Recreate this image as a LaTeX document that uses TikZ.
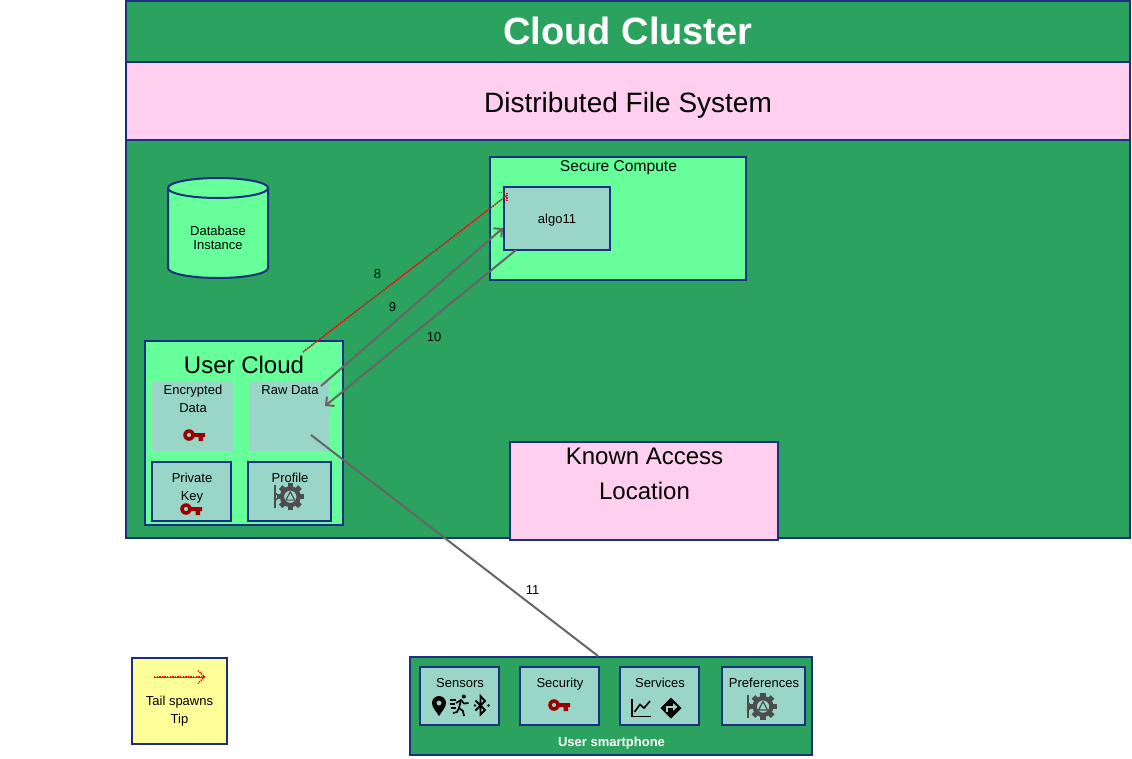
\documentclass[tikz,border=0pt]{standalone}
\usepackage{fontspec}
\setmainfont{Liberation Sans}
\usetikzlibrary{arrows.meta,shapes.geometric,calc}
\definecolor{cgreen}{HTML}{2CA25F}
\definecolor{lgreen}{HTML}{66FF99}
\definecolor{cpink}{HTML}{FFCFEF}
\definecolor{cteal}{HTML}{99D6C8}
\definecolor{cnavy}{HTML}{1A2E82}
\definecolor{cyell}{HTML}{FFFF99}
\definecolor{ckey}{HTML}{990000}
\definecolor{cgear}{HTML}{4D4D4D}
\definecolor{cline}{HTML}{666666}
\newcommand{\fs}[1]{\fontsize{#1}{#1}\selectfont}
\newcommand{\keyicon}[2]{%
 \begin{scope}[shift={(#1,#2)}]
  \fill[ckey,even odd rule] (6,6) circle[radius=5.8] (6,6) circle[radius=2.2];
  \fill[ckey] (10,4.2) rectangle (22,8) (15.5,7) rectangle (20,12);
 \end{scope}}
\newcommand{\gearicon}[2]{%
 \begin{scope}[shift={(#1,#2)}]
  \foreach \a in {0,45,...,315}{\fill[cgear,rotate=\a] (-2.6,-13.6) rectangle (2.6,-7);}
  \fill[cgear,even odd rule] (0,0) circle[radius=10.5] (0,0) circle[radius=6.2];
  \draw[cgear,line width=1.2] (0,-5) -- (-4.4,3.4) -- (4.4,3.4) -- cycle;
  \draw[cgear,line width=1.8] (-15.3,-12) -- (-15.3,11);
  \draw[cgear,line width=1.4] (-15.3,-4) -- (-11,0) -- (-15.3,4);
 \end{scope}}
\tikzset{
 every node/.style={inner sep=0,outer sep=0,align=center,text=black},
 zonebox/.style={draw=cnavy,line width=2,fill=cgreen},
 pinkbox/.style={draw=cnavy,line width=2,fill=cpink},
 limebox/.style={draw=cnavy,line width=2,fill=lgreen},
 tealbox/.style={draw=cnavy,line width=2,fill=cteal},
 plainteal/.style={fill=cteal},
 small/.style={font=\fs{13},text height=9.5,text depth=2.5},
 link/.style={cline,line width=2},
 tiplink/.style={link,-{Straight Barb[length=6,width=12,line width=2]}},
 spawn/.style={red,line width=1.6,dash pattern=on 1.3 off 1.3},
 spawnbase/.style={cline,line width=.7},
 spawnbarb/.style={red,line width=1.5,dash pattern=on 1.2 off 1},
}
\begin{document}
\begin{tikzpicture}[x=1pt,y=-1pt]
\useasboundingbox (0,0) rectangle (1132,758);
% Cloud cluster
\draw[zonebox] (126,1) rectangle (1130,538);
\node[font=\bfseries\fs{38},text=white] (title) at (628,31) {Cloud Cluster};
\draw[pinkbox] (126,62) rectangle (1130,140);
\node[font=\fs{28}] (dfs) at (628,105) {Distributed File System};
% Database
\draw[limebox] (168,188) -- (168,268) arc[start angle=180,end angle=0,x radius=50,y radius=10] -- (268,188);
\draw[limebox] (218,188) ellipse[x radius=50,y radius=10];
\node[small] (db1) at (218,231.5) {Database};
\node[small] (db2) at (218,246) {Instance};
% Secure compute
\draw[limebox] (490,157) rectangle (746,280);
\node[font=\fs{15.6}] (sc) at (618.5,168) {Secure Compute};
\draw[tealbox] (504,187) rectangle (610,250);
\node[small] (algo) at (557,219.5) {algo11};
% User cloud
\draw[limebox] (145,341) rectangle (343,525);
\node[font=\fs{24}] (uc) at (244,364.5) {User Cloud};
\fill[plainteal] (152,381) rectangle (233,451);
\fill[plainteal] (249,381) rectangle (329,451);
\node[small] (enc1) at (193,391) {Encrypted};
\node[small] (enc2) at (193,408.5) {Data};
\keyicon{183}{429}
\node[small] (raw) at (290,391) {Raw Data};
\draw[tealbox] (152,462) rectangle (231,521);
\node[small] (pk1) at (192,479) {Private};
\node[small] (pk2) at (192,497) {Key};
\keyicon{180}{503}
\draw[tealbox] (248,462) rectangle (331,521);
\node[small] (prof) at (290,479) {Profile};
\gearicon{290.3}{496.7}
% Known access location
\draw[pinkbox] (510,442) rectangle (778,540);
\node[font=\fs{24}] (kal1) at (644.5,456.5) {Known Access};
\node[font=\fs{24}] (kal2) at (644.5,491) {Location};
% Legend
\draw[zonebox,fill=cyell] (132,658) rectangle (227,744);
\coordinate (lega) at (154,677);
\coordinate (legb) at (204.5,677);
\draw[spawnbase] (lega) -- (legb);
\draw[spawn] (lega) -- (legb);
\draw[spawnbarb] (198,670.5) -- (legb) -- (198,683.5);
\node[small] (leg1) at (179.5,702) {Tail spawns};
\node[small] (leg2) at (179.5,720) {Tip};
% Smartphone
\draw[zonebox] (410,657) rectangle (812,755);
\node[font=\bfseries\fs{13},text=white] (ph) at (611.5,743.5) {User smartphone};
\draw[tealbox] (420,667) rectangle (499,725);
\draw[tealbox] (520,667) rectangle (599,725);
\draw[tealbox] (620,667) rectangle (699,725);
\draw[tealbox] (722,667) rectangle (805,725);
\node[small] (s1) at (460,683.5) {Sensors};
\node[small] (s2) at (560,683.5) {Security};
\node[small] (s3) at (660,683.5) {Services};
\node[small] (s4) at (764,683.5) {Preferences};
\keyicon{548}{699}
\gearicon{763}{706.5}
% pin
\fill[black,even odd rule] (439,716) .. controls (436,711) and (432,707.5) .. (432,703) arc[start angle=180,end angle=360,radius=7] .. controls (446,707.5) and (442,711) .. (439,716) -- cycle (439,703) circle[radius=2.6];
% runner
\begin{scope}[black,line width=1.7]
 \fill (463.8,696.5) circle[radius=2];
 \draw (461,700) -- (459,708) -- (463,711) -- (464,716);
 \draw (459,708) -- (457,712) -- (453,713);
 \draw (456,703) -- (461,700) -- (464,703.5) -- (468.5,703);
 \draw[line width=1.3] (450,700) -- (456,700) (449.5,704) -- (455,704) (451,708) -- (456,708);
\end{scope}
% bluetooth
\begin{scope}[black,line width=1.8]
 \draw (475.5,700.5) -- (485,710) -- (480.5,714.5) -- (480.5,696) -- (485,701) -- (475.5,710.5);
 \fill (475,705.5) circle[radius=1.3] (488.5,705.5) circle[radius=1.3];
\end{scope}
% chart
\draw[black,line width=1.8] (632,699) -- (632,716.5) -- (651,716.5);
\draw[black,line width=1.6] (634.5,712) -- (640,704.5) -- (644,708) -- (650,701);
% turn sign
\fill[black] (671,697.5) -- (681.5,708) -- (671,718.5) -- (660.5,708) -- cycle;
\draw[cteal,line width=1.6] (667,712) -- (667,707) -- (674,707);
\fill[cteal] (673,703.2) -- (677.5,707) -- (673,710.8) -- cycle;
% Connectors
\coordinate (e8a) at (303,352);
\coordinate (e8b) at (507.5,195);
\coordinate (e9a) at (321,386);
\coordinate (e9b) at (503,228);
\coordinate (e10a) at (516,250);
\coordinate (e10b) at (325,406);
\coordinate (e11a) at (311,435);
\coordinate (e11b) at (598,656);
\draw[tiplink] (e9a) -- (e9b);
\draw[tiplink] (e10a) -- (e10b);
\draw[link] (e11a) -- (e11b);
\draw[spawnbase] (e8a) -- (e8b);
\draw[spawn] (e8a) -- (e8b);
\draw[spawnbarb] (499,192.7) -- (505,192.7) (507,193) -- (507,201.7);
\node[small] (l8) at (377.5,274.5) {8};
\node[small] (l9) at (392.5,307.5) {9};
\node[small] (l10) at (434,337.5) {10};
\node[small] (l11) at (532.5,590.5) {11};
\end{tikzpicture}
\end{document}
